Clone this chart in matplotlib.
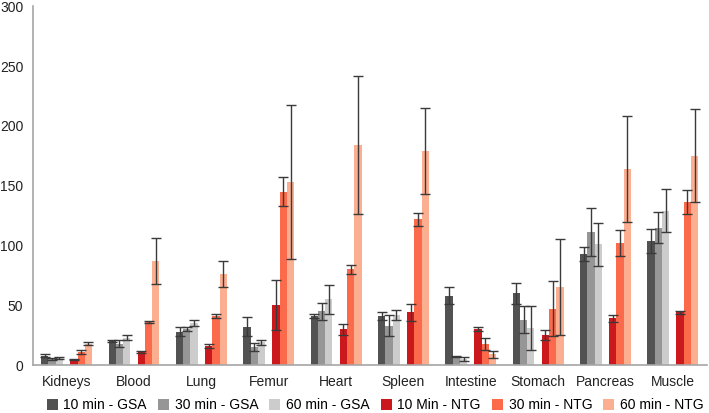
import numpy as np
import matplotlib.pyplot as plt

plt.rcParams['font.family'] = ['Liberation Sans', 'DejaVu Sans']

organs = ['Kidneys', 'Blood', 'Lung', 'Femur', 'Heart', 'Spleen',
          'Intestine', 'Stomach', 'Pancreas', 'Muscle']
labels = ['10 min - GSA', '30 min - GSA', '60 min - GSA',
          '10 Min - NTG', '30 min - NTG', '60 min - NTG']

gsa10 = [8, 20, 28, 32, 41, 41, 58, 60, 93, 104]
gsa10_err = [1, 1, 4, 8, 2, 3, 7, 9, 6, 10]
gsa30 = [5, 18, 30, 15, 45, 33, 7, 38, 111, 115]
gsa30_err = [1, 3, 1.5, 3.5, 7, 9, 0.5, 11, 20, 13]
gsa60 = [6, 23, 35, 19, 55, 42, 5, 31, 101, 129]
gsa60_err = [0.5, 2, 2.5, 2, 12, 4, 1.5, 18, 18, 18]
ntg10 = [5, 11, 16, 50, 30, 44, 30, 25, 39, 44]
ntg10_err = [0.5, 1, 1.5, 21, 4.5, 7, 1.5, 4, 3, 1.5]
ntg30 = [11, 36, 41, 145, 80, 122, 18, 47, 102, 136]
ntg30_err = [1.5, 1, 1.5, 12, 4, 5.5, 5, 23, 11, 10]
ntg60 = [18, 87, 76, 153, 184, 179, 9, 65, 164, 175]
ntg60_err = [1.5, 19, 11, 64, 58, 36, 3, 40, 44, 39]

series = [gsa10, gsa30, gsa60, ntg10, ntg30, ntg60]
errors = [gsa10_err, gsa30_err, gsa60_err, ntg10_err, ntg30_err, ntg60_err]
colors = ['#525252', '#969696', '#cccccc', '#cb181d', '#fb6a4a', '#fcae91']
slots = [-3, -2, -1, 1, 2, 3]

fig = plt.figure(figsize=(7.09, 4.13), dpi=100)
ax = fig.add_axes([0.0465, 0.116, 0.95, 0.869])

x = np.arange(len(organs))
w = 0.108
for vals, errs, col, s, lab in zip(series, errors, colors, slots, labels):
    ax.bar(x + s * w, vals, w, color=col, label=lab,
           yerr=errs, capsize=3.5,
           error_kw=dict(ecolor='#3a3a3a', elinewidth=1, capthick=1))

ax.set_xlim(-0.5, len(organs) - 0.5)
ax.set_ylim(0, 300)
ax.set_yticks(range(0, 301, 50))
ax.set_xticks(x)
ax.set_xticklabels(organs)
ax.tick_params(length=0, labelsize=10, colors='#222222')
ax.tick_params(axis='x', pad=7)
ax.tick_params(axis='y', pad=7)
for side in ['top', 'right']:
    ax.spines[side].set_visible(False)
for side in ['left', 'bottom']:
    ax.spines[side].set_color('#a6a6a6')
    ax.spines[side].set_linewidth(1.2)

ax.legend(loc='upper center', bbox_to_anchor=(0.508, -0.058), ncol=6,
          frameon=False, fontsize=10, handlelength=0.8, handleheight=0.8,
          handletextpad=0.4, columnspacing=0.8)

fig.savefig('out.png', dpi=100)
